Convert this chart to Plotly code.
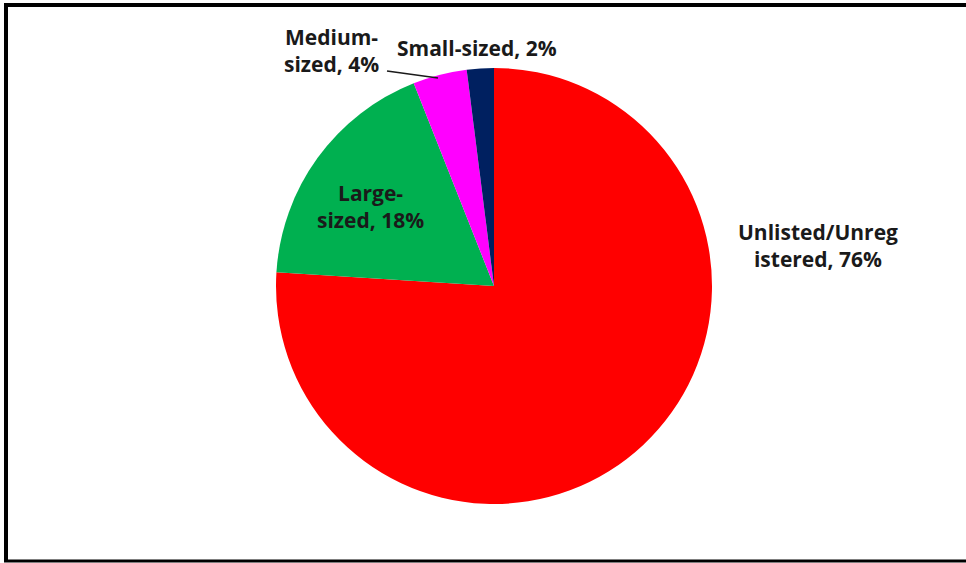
import plotly.graph_objects as go

categories = ["Unlisted/Unregistered", "Large-sized", "Medium-sized", "Small-sized"]
values = [76, 18, 4, 2]
label_texts = ["Unlisted/Unreg<br>istered, 76%", "Large-<br>sized, 18%", "Medium-<br>sized, 4%", "Small-sized, 2%"]
colors = ["#FF0000", "#00B050", "#FF00FF", "#002060"]

W, H = 966, 563
cx, cy, r = 494, 286, 218

fig = go.Figure(go.Pie(
    labels=categories, values=values, sort=False, direction="clockwise", rotation=0,
    marker=dict(colors=colors, line=dict(width=0)), textinfo="none", hoverinfo="label+percent",
    domain=dict(x=[(cx - r) / W, (cx + r) / W], y=[(H - cy - r) / H, (H - cy + r) / H]),
    showlegend=False,
))

label_pos = [(818, 246), (370, 206), (331, 50), (477, 48)]
font = dict(family="Open Sans", size=21, color="#1a1a1a")
for t, (x, y) in zip(label_texts, label_pos):
    fig.add_annotation(x=x / W, y=1 - y / H, xref="paper", yref="paper", text="<b>" + t + "</b>",
                       showarrow=False, font=font, align="center", xanchor="center", yanchor="middle")

# leader line for medium-sized
fig.add_shape(type="line", xref="paper", yref="paper", x0=387 / W, y0=1 - 71 / H, x1=438 / W, y1=1 - 78 / H,
              line=dict(color="#1a1a1a", width=1.5))

# frame
fig.add_shape(type="line", xref="paper", yref="paper", x0=4 / W, x1=1, y0=1 - 5 / H, y1=1 - 5 / H,
              line=dict(color="black", width=4))
fig.add_shape(type="line", xref="paper", yref="paper", x0=6 / W, x1=6 / W, y0=1 - 3 / H, y1=1 - 562 / H,
              line=dict(color="black", width=4))
fig.add_shape(type="line", xref="paper", yref="paper", x0=4 / W, x1=1, y0=1 - 561 / H, y1=1 - 561 / H,
              line=dict(color="black", width=3))

fig.update_layout(width=W, height=H, margin=dict(l=0, r=0, t=0, b=0),
                  paper_bgcolor="white", plot_bgcolor="white")
fig.write_html("out.html", config={"displayModeBar": False},
               post_script="document.body.style.margin='0';document.body.style.overflow='hidden';")
